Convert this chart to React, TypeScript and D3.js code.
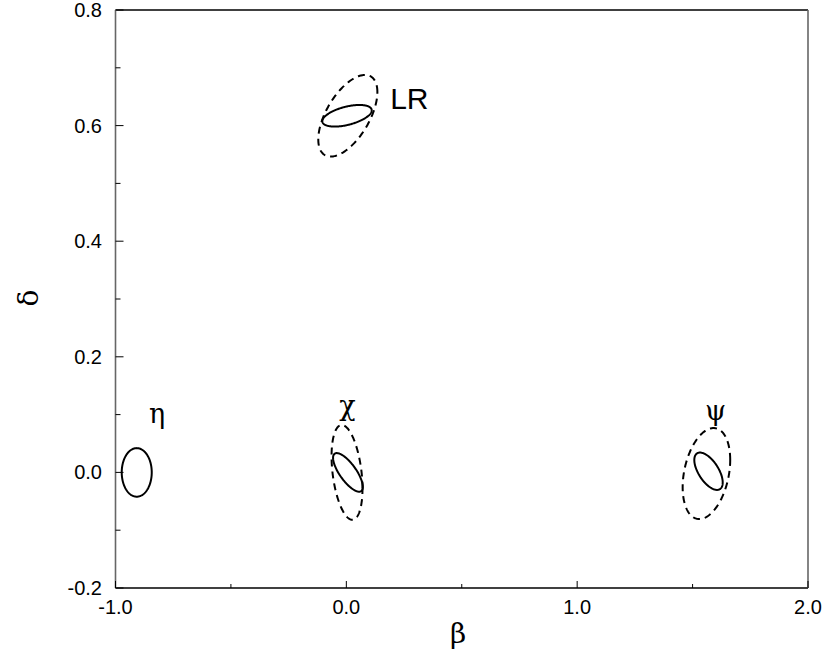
import React from "react";
import * as d3 from "d3";

// Axis tick values
const xMajorTicks = [-1.0, 0.0, 1.0, 2.0];
const xMinorTicks = [-0.5, 0.5, 1.5];
const yMajorTicks = [-0.2, 0.0, 0.2, 0.4, 0.6, 0.8];
const yMinorTicks = [-0.1, 0.1, 0.3, 0.5, 0.7];

// Confidence ellipses: name, centre (beta, delta), half-widths (sx, sy), correlation rho, style
const ellipseNames = ["eta-solid", "chi-dashed", "chi-solid", "psi-dashed", "psi-solid", "LR-dashed", "LR-solid"];
const ellipseCx = [-0.908, 0.003, 0.007, 1.56, 1.569, 0.0065, 0.003];
const ellipseCy = [0.0, 0.0, 0.0, -0.002, 0.002, 0.617, 0.617];
const ellipseSx = [0.065, 0.067, 0.0645, 0.103, 0.0615, 0.128, 0.107];
const ellipseSy = [0.042, 0.082, 0.0334, 0.0787, 0.0323, 0.0706, 0.0187];
const ellipseRho = [0.0, -0.34, -0.75, 0.3, -0.6, 0.58, 0.5];
const ellipseDashed = [false, true, false, true, false, true, false];

// Text labels of the models
const labelTexts = ["η", "χ", "ψ", "LR"];
const labelX = [-0.82, 0.005, 1.6, 0.19];
const labelY = [0.085, 0.1, 0.09, 0.629];
const labelSerif = [true, true, true, false];

const W = 825;
const H = 655;
const margin = { left: 115.5, right: 825 - 808, top: 10, bottom: 655 - 588 };

export default function App() {
  const x = d3.scaleLinear().domain([-1, 2]).range([margin.left, W - margin.right]);
  const y = d3.scaleLinear().domain([-0.2, 0.8]).range([H - margin.bottom, margin.top]);

  const line = d3
    .line<[number, number]>()
    .x((d) => x(d[0]))
    .y((d) => y(d[1]))
    .curve(d3.curveLinearClosed);

  const ellipses = ellipseNames.map((name, i) => {
    const n = 240;
    const rho = ellipseRho[i];
    const pts: [number, number][] = d3.range(n).map((k) => {
      const t = (2 * Math.PI * k) / n;
      const px = ellipseCx[i] + ellipseSx[i] * Math.cos(t);
      const py = ellipseCy[i] + ellipseSy[i] * (rho * Math.cos(t) + Math.sqrt(1 - rho * rho) * Math.sin(t));
      return [px, py];
    });
    return (
      <path
        key={name}
        d={line(pts) || ""}
        fill="none"
        stroke="#000"
        strokeWidth={2}
        strokeDasharray={ellipseDashed[i] ? "7,5" : undefined}
      />
    );
  });

  const x0 = x(-1);
  const x1 = x(2);
  const y0 = y(-0.2);
  const y1 = y(0.8);
  const sans = "'Liberation Sans', Arial, Helvetica, sans-serif";
  const serif = "'DejaVu Serif', 'Liberation Serif', serif";

  return (
    <svg
      width={W}
      height={H}
      style={{ position: "absolute", left: 0, top: 0, background: "#fff" }}
      xmlns="http://www.w3.org/2000/svg"
    >
      <rect x={0} y={0} width={W} height={H} fill="#fff" />
      {/* frame */}
      <line x1={x0} x2={x1} y1={y1} y2={y1} stroke="#000" strokeWidth={1.5} />
      <line x1={x0} x2={x1} y1={y0} y2={y0} stroke="#000" strokeWidth={1.5} />
      <line x1={x0} x2={x0} y1={y1} y2={y0} stroke="#666" strokeWidth={1.6} />
      <line x1={x1} x2={x1} y1={y1} y2={y0} stroke="#666" strokeWidth={1.6} />

      {/* x ticks */}
      {xMajorTicks.map((t) => (
        <g key={"xm" + t}>
          <line x1={x(t)} x2={x(t)} y1={y0} y2={y0 - 7} stroke="#000" strokeWidth={1} />
          <text x={x(t)} y={614} textAnchor="middle" fontFamily={sans} fontSize={20} fill="#000">
            {t.toFixed(1)}
          </text>
        </g>
      ))}
      {xMinorTicks.map((t) => (
        <line key={"xn" + t} x1={x(t)} x2={x(t)} y1={y0} y2={y0 - 4} stroke="#000" strokeWidth={1} />
      ))}

      {/* y ticks */}
      {yMajorTicks.map((t) => (
        <g key={"ym" + t}>
          <line x1={x0} x2={x0 + 8} y1={y(t)} y2={y(t)} stroke="#000" strokeWidth={1} />
          <text
            x={102}
            y={y(t)}
            dy="0.35em"
            textAnchor="end"
            fontFamily={sans}
            fontSize={20}
            fill="#000"
          >
            {t.toFixed(1)}
          </text>
        </g>
      ))}
      {yMinorTicks.map((t) => (
        <line key={"yn" + t} x1={x0} x2={x0 + 5} y1={y(t)} y2={y(t)} stroke="#000" strokeWidth={1} />
      ))}

      {/* ellipses */}
      {ellipses}

      {/* labels */}
      {labelTexts.map((s, i) => (
        <text
          key={s}
          x={x(labelX[i])}
          y={y(labelY[i])}
          textAnchor={labelSerif[i] ? "middle" : "start"}
          fontFamily={labelSerif[i] ? serif : sans}
          fontSize={labelSerif[i] ? 27 : 30}
          fill="#000"
        >
          {s}
        </text>
      ))}

      {/* axis titles */}
      <text x={458} y={643} textAnchor="middle" fontFamily={serif} fontSize={28} fill="#000">
        β
      </text>
      <text
        transform="translate(38,298) rotate(-90)"
        textAnchor="middle"
        fontFamily={serif}
        fontSize={28}
        fill="#000"
      >
        δ
      </text>
    </svg>
  );
}
